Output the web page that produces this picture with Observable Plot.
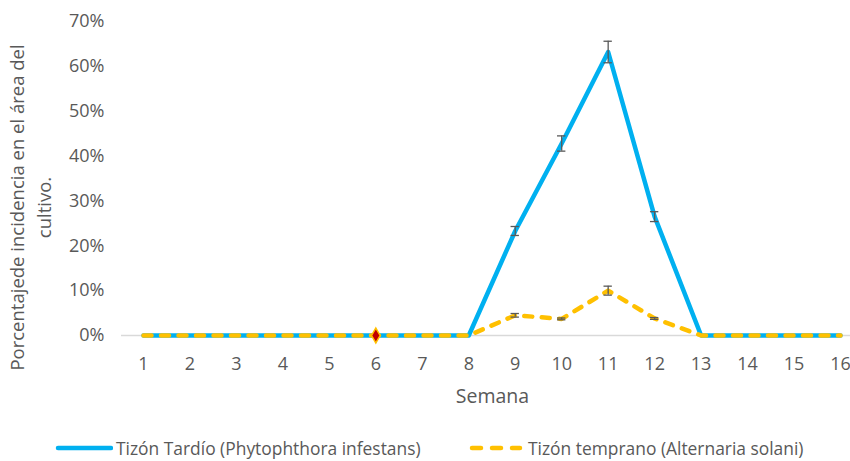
<!DOCTYPE html>
<html>
<head>
<meta charset="utf-8">
<script src="https://cdn.jsdelivr.net/npm/d3@7"></script>
<script src="https://cdn.jsdelivr.net/npm/@observablehq/plot@0.6"></script>
<style>
  html, body { margin: 0; padding: 0; background: #fff; }
  body { width: 850px; height: 461px; overflow: hidden; font-family: "Open Sans", sans-serif; }
  #legend { position: relative; height: 41px; font-size: 17.4px; line-height: 18px; color: #595959; }
  .item { position: absolute; top: 19px; height: 18px; display: flex; align-items: center; white-space: nowrap; }
</style>
</head>
<body>
<div id="chart"></div>
<div id="legend"></div>
<script>
const weeks = [1,2,3,4,5,6,7,8,9,10,11,12,13,14,15,16];
const tardio = [0,0,0,0,0,0,0,0,0.233,0.428,0.632,0.265,0,0,0,0];
const tardioErr = [0,0,0,0,0,0,0,0,0.010,0.017,0.024,0.011,0,0,0,0];
const temprano = [0,0,0,0,0,0,0,0,0.045,0.037,0.100,0.038,0,0,0,0];
const tempranoErr = [0,0,0,0,0,0,0,0,0.004,0.002,0.010,0.002,0,0,0,0];
const yTicks = [0,0.1,0.2,0.3,0.4,0.5,0.6,0.7];
const seriesNames = ["Tizón Tardío (Phytophthora infestans)", "Tizón temprano (Alternaria solani)"];
const markerWeek = 6;

const blue = "#00B0F0", yellow = "#FFC000", gray = "#595959";

const dataT = weeks.map((w,i) => ({w, v: tardio[i], e: tardioErr[i]}));
const dataE = weeks.map((w,i) => ({w, v: temprano[i], e: tempranoErr[i]}));
const errT = dataT.filter(d => d.e > 0);
const errE = dataE.filter(d => d.e > 0);
const caps = arr => arr.flatMap(d => [{w: d.w, y: d.v - d.e}, {w: d.w, y: d.v + d.e}]);

const chart = Plot.plot({
  width: 850,
  height: 420,
  marginTop: 21,
  marginBottom: 85,
  marginLeft: 122,
  marginRight: 0,
  style: {fontFamily: "'Open Sans', sans-serif", fontSize: "18px", color: gray, background: "#fff"},
  x: {type: "linear", domain: [1,16], range: [143, 840]},
  y: {domain: [0, 0.7]},
  marks: [
    Plot.ruleY([0], {x1: 0.527, x2: 16.25, stroke: "#D9D9D9", strokeWidth: 1.5}),
    Plot.axisX({ticks: weeks, tickFormat: d => d, tickSize: 0, tickPadding: 22, label: null, fill: gray, fontSize: 18}),
    Plot.axisY({ticks: yTicks, tickFormat: d => Math.round(d*100) + "%", tickSize: 0, tickPadding: 18, label: null, fill: gray, fontSize: 18}),
    Plot.line(dataT, {x: "w", y: "v", stroke: blue, strokeWidth: 4.5, strokeLinejoin: "round"}),
    Plot.line(dataE, {x: "w", y: "v", stroke: yellow, strokeWidth: 4.5, strokeDasharray: "8,9.5", strokeLinecap: "round", strokeLinejoin: "round"}),
    Plot.ruleX(errT, {x: "w", y1: d => d.v - d.e, y2: d => d.v + d.e, stroke: gray, strokeWidth: 1.3}),
    Plot.ruleY(caps(errT), {y: "y", x1: d => d.w - 0.09, x2: d => d.w + 0.09, stroke: gray, strokeWidth: 1.3}),
    Plot.ruleX(errE, {x: "w", y1: d => d.v - d.e, y2: d => d.v + d.e, stroke: gray, strokeWidth: 1.3}),
    Plot.ruleY(caps(errE), {y: "y", x1: d => d.w - 0.09, x2: d => d.w + 0.09, stroke: gray, strokeWidth: 1.3}),
    Plot.dot(dataE.filter(d => d.w === markerWeek), {x: "w", y: "v", symbol: "diamond", r: 4.5, fill: "#C00000", stroke: yellow, strokeWidth: 1.5}),
    Plot.text(["Semana"], {frameAnchor: "bottom", dy: 67, dx: 6, fontSize: 19.5, fill: gray}),
    Plot.text(["Porcentajede incidencia en el área del\ncultivo."], {frameAnchor: "left", dx: -94, dy: 29, rotate: -90, fontSize: 18.5, lineHeight: 1.5, textAnchor: "middle", lineAnchor: "middle", fill: gray})
  ]
});
document.getElementById("chart").appendChild(chart);

const legend = document.getElementById("legend");
const items = [
  {left: 55, name: seriesNames[0], sw: `<svg width="58" height="6"><line x1="3" y1="3" x2="56" y2="3" stroke="${blue}" stroke-width="4.5" stroke-linecap="round"/></svg>`},
  {left: 467, name: seriesNames[1], sw: `<svg width="58" height="6"><line x1="5" y1="3" x2="53" y2="3" stroke="${yellow}" stroke-width="4.5" stroke-linecap="round" stroke-dasharray="9,11"/></svg>`}
];
for (const it of items) {
  const div = document.createElement("div");
  div.className = "item";
  div.style.left = it.left + "px";
  div.innerHTML = it.sw + `<span style="margin-left:3px">${it.name}</span>`;
  legend.appendChild(div);
}
</script>
</body>
</html>
